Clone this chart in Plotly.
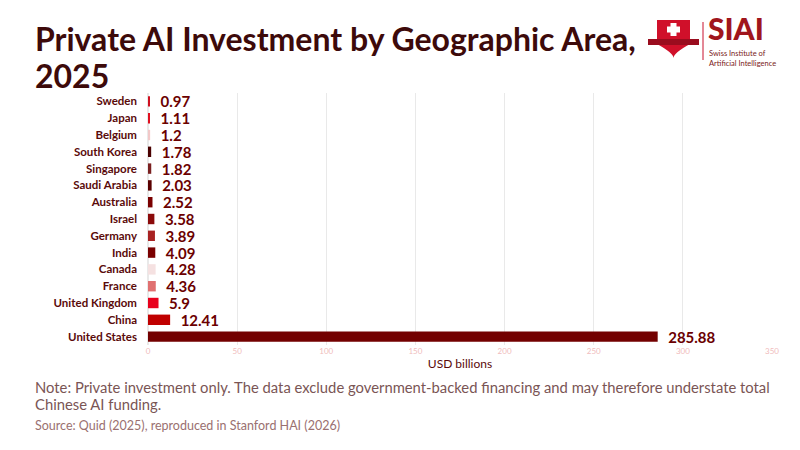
import plotly.graph_objects as go

countries = ["United States", "China", "United Kingdom", "France", "Canada", "India",
             "Germany", "Israel", "Australia", "Saudi Arabia", "Singapore", "South Korea",
             "Belgium", "Japan", "Sweden"]
values = [285.88, 12.41, 5.9, 4.36, 4.28, 4.09, 3.89, 3.58, 2.52, 2.03, 1.82, 1.78, 1.2, 1.11, 0.97]
bar_colors = ["#730000", "#c00000", "#e8001c", "#e07070", "#f5e1e1", "#7a0000",
              "#a82222", "#8b0a0a", "#7a0000", "#5a0000", "#7a2020", "#4a0000",
              "#f2c8c8", "#e01020", "#d01020"]
tick_vals = [0, 50, 100, 150, 200, 250, 300, 350]

# plot area as seen on screen (page puts the figure 8px in)
OFF = 8
L, R, T, B = 148, 772, 93, 345


def px(x):
    return (x - L) / (R - L)


def py(y):
    return (B - y) / (B - T)


fig = go.Figure()
fig.add_trace(go.Bar(
    x=values, y=countries, orientation="h",
    marker=dict(color=bar_colors, line=dict(width=0)),
    text=["\u2002" + str(v) for v in values], textposition="outside", constraintext="none",
    textfont=dict(family="Lato", size=15, color="#6b0000", weight="bold"),
    cliponaxis=False, width=0.62,
))

fig.update_layout(
    width=800, height=450,
    margin=dict(l=L - OFF, r=800 - R + OFF, t=T - OFF, b=450 - B + OFF),
    paper_bgcolor="white", plot_bgcolor="white",
    showlegend=False,
    font=dict(family="Lato", color="#5a0a0a"),
    xaxis=dict(range=[0, 350], tickvals=tick_vals, showgrid=True, gridcolor="#e9e9e9",
               zeroline=True, zerolinecolor="#e9e9e9", gridwidth=1,
               tickfont=dict(size=8, color="#f0bcbc"),
               title=dict(text="USD billions", font=dict(size=12, color="#5a0a0a"), standoff=4)),
    yaxis=dict(categoryorder="array", categoryarray=countries,
               tickfont=dict(size=11.5, color="#5a0a0a", weight="bold"),
               ticklabelstandoff=10, showgrid=False),
    bargap=0.35,
)

title_lines = ["Private AI Investment by Geographic Area,", "2025"]
for line, ymid in zip(title_lines, [38, 75]):
    fig.add_annotation(
        text="<b>" + line + "</b>", xref="paper", yref="paper", x=px(33), y=py(ymid),
        xanchor="left", yanchor="middle", showarrow=False,
        font=dict(family="Lato", size=32, color="#3d0a0a"))

note_lines = ["Note: Private investment only. The data exclude government-backed financing and may therefore understate total",
              "Chinese AI funding."]
for line, ymid in zip(note_lines, [387, 404]):
    fig.add_annotation(
        text=line, xref="paper", yref="paper", x=px(33), y=py(ymid),
        xanchor="left", yanchor="middle", showarrow=False,
        font=dict(family="Lato", size=14.8, color="#7a5555"))
fig.add_annotation(
    text="Source: Quid (2025), reproduced in Stanford HAI (2026)",
    xref="paper", yref="paper", x=px(33), y=py(425), xanchor="left", yanchor="middle",
    showarrow=False, font=dict(family="Lato", size=12.5, color="#9a7070"))

# logo
shield = "M {0},{1} L {2},{1} L {2},{3} Q {4},{5} {4},{6} Q {4},{5} {0},{3} Z".format(
    px(657), py(20), px(690), py(44), px(673.5), py(53), py(58))
fig.add_shape(type="path", path=shield, xref="paper", yref="paper",
              fillcolor="#d0102a", line=dict(width=0))
fig.add_shape(type="rect", xref="paper", yref="paper", x0=px(670.5), x1=px(676.5),
              y0=py(23), y1=py(36), fillcolor="white", line=dict(width=0))
fig.add_shape(type="rect", xref="paper", yref="paper", x0=px(667), x1=px(680),
              y0=py(26.5), y1=py(32.5), fillcolor="white", line=dict(width=0))
fig.add_shape(type="rect", xref="paper", yref="paper", x0=px(648), x1=px(699),
              y0=py(39), y1=py(45), fillcolor="#9a0c1e", line=dict(width=0))
fig.add_shape(type="line", xref="paper", yref="paper", x0=px(703), x1=px(703),
              y0=py(22), y1=py(60), line=dict(color="#c8102e", width=1))
fig.add_annotation(text="SIAI", xref="paper", yref="paper", x=px(706), y=py(48),
                   xanchor="left", yanchor="bottom", showarrow=False,
                   font=dict(family="Lato", size=30, color="#a0151c", weight=900))
fig.add_annotation(text="Swiss Institute of<br>Artificial Intelligence", xref="paper", yref="paper",
                   x=px(707), y=py(47), xanchor="left", yanchor="top", showarrow=False,
                   align="left", font=dict(family="Lato", size=7.5, color="#7a1a1a"))

fig.write_html("out.html")
